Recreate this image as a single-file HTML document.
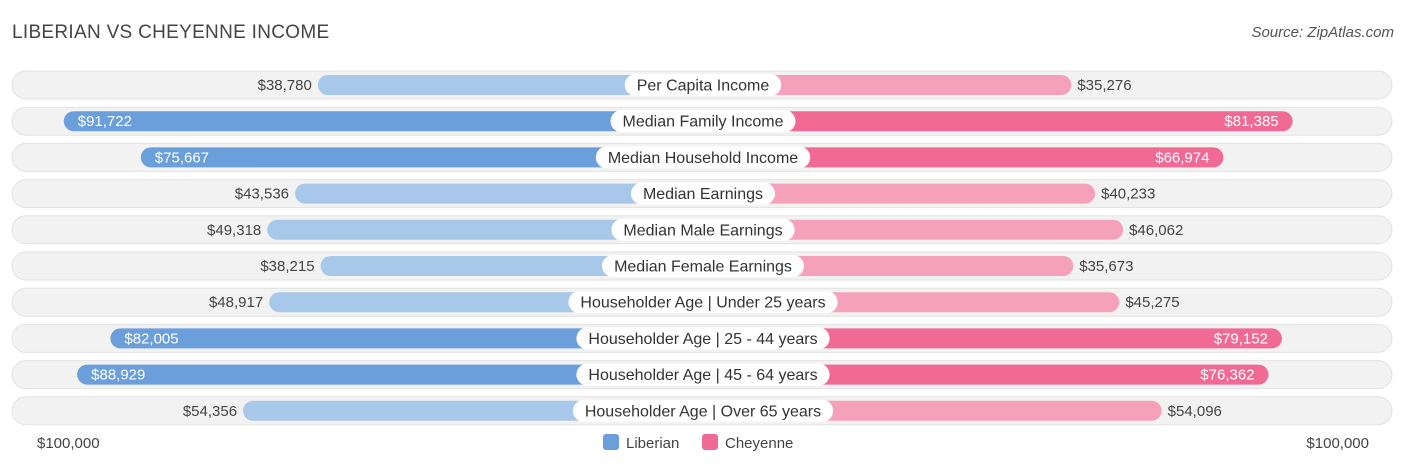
<!DOCTYPE html>
<html><head><meta charset="utf-8"><style>
body{margin:0;background:#fff;font-family:"Liberation Sans",sans-serif;}
#wrap{position:relative;width:1406px;height:467px;overflow:hidden;}
.title{position:absolute;left:12px;top:22px;font-size:19px;color:#444;letter-spacing:0.3px}
.src{position:absolute;right:12px;top:24px;font-size:15px;color:#555;font-style:italic}
</style></head><body>
<div id="wrap">
<div class="title">LIBERIAN VS CHEYENNE INCOME</div>
<div class="src">Source: ZipAtlas.com</div>
<svg id="svg" width="1406" height="467" style="position:absolute;left:0;top:0"></svg>
</div>
<script>
const categories=["Per Capita Income","Median Family Income","Median Household Income","Median Earnings","Median Male Earnings","Median Female Earnings","Householder Age | Under 25 years","Householder Age | 25 - 44 years","Householder Age | 45 - 64 years","Householder Age | Over 65 years"];
const liberian=[38780,91722,75667,43536,49318,38215,48917,82005,88929,54356];
const cheyenne=[35276,81385,66974,40233,46062,35673,45275,79152,76362,54096];
const axisLabels=["$100,000","$100,000"];
const NS="http://www.w3.org/2000/svg";
const svg=document.getElementById('svg');
const cx=703, y0=85, dy=36.2;
function len(v){return 199+v*0.0048;}
function yPos(i){return y0+i*dy;}
function fmt(v){return "$"+v.toLocaleString("en-US");}
function mk(tag,attrs,parent){const e=document.createElementNS(NS,tag);for(const k in attrs)e.setAttribute(k,attrs[k]);(parent||svg).appendChild(e);return e;}
categories.forEach((c,i)=>{
  const y=yPos(i);
  const g=mk('g',{});
  
  
  const bg=mk('rect',{x:12,y:y-14,width:1380,height:28,rx:14,fill:'#f2f2f2',stroke:'#e2e2e2','stroke-width':1},g);
  
  
  const lv=liberian[i], cv=cheyenne[i];
  const ld=lv>60000, cd=cv>60000;
  const ll=len(lv), cl=len(cv);
  const lb=mk('rect',{x:cx-ll,y:y-10,width:ll,height:20,rx:10,fill:ld?'#6a9fdc':'#a8c8ea'},g);
  
  
  const cb=mk('rect',{x:cx,y:y-10,width:cl,height:20,rx:10,fill:cd?'#f06a95':'#f5a1bc'},g);
  
  
  const lt=mk('text',{x:ld?cx-ll+14:cx-ll-6,y:y+5,'font-size':15,fill:ld?'#fff':'#444','text-anchor':ld?'start':'end'},g);
  lt.textContent=fmt(lv);
  
  
  const ct=mk('text',{x:cd?cx+cl-14:cx+cl+6,y:y+5,'font-size':15,fill:cd?'#fff':'#444','text-anchor':cd?'end':'start'},g);
  ct.textContent=fmt(cv);
  
  
  const pill=mk('rect',{x:cx-80,y:y-11,width:160,height:22,rx:11,fill:'#fff'},g);
  
  
  const lab=mk('text',{x:cx,y:y+5.5,'font-size':16,fill:'#333','text-anchor':'middle'},g);
  lab.textContent=c;
  
  
  const w=lab.getComputedTextLength()+24;
  pill.setAttribute('x',cx-w/2);
  pill.setAttribute('width',w);
});
const a1=mk('text',{x:37,y:448,'font-size':15,fill:'#444'});a1.textContent=axisLabels[0];


const a2=mk('text',{x:1369,y:448,'font-size':15,fill:'#444','text-anchor':'end'});a2.textContent=axisLabels[1];


const l1=mk('rect',{x:603,y:434,width:16,height:16,rx:3,fill:'#6a9fdc'});


const l1t=mk('text',{x:626,y:448,'font-size':15,fill:'#444'});l1t.textContent="Liberian";


const l2=mk('rect',{x:702,y:434,width:16,height:16,rx:3,fill:'#f06a95'});


const l2t=mk('text',{x:725,y:448,'font-size':15,fill:'#444'});l2t.textContent="Cheyenne";


</script>
</body></html>
